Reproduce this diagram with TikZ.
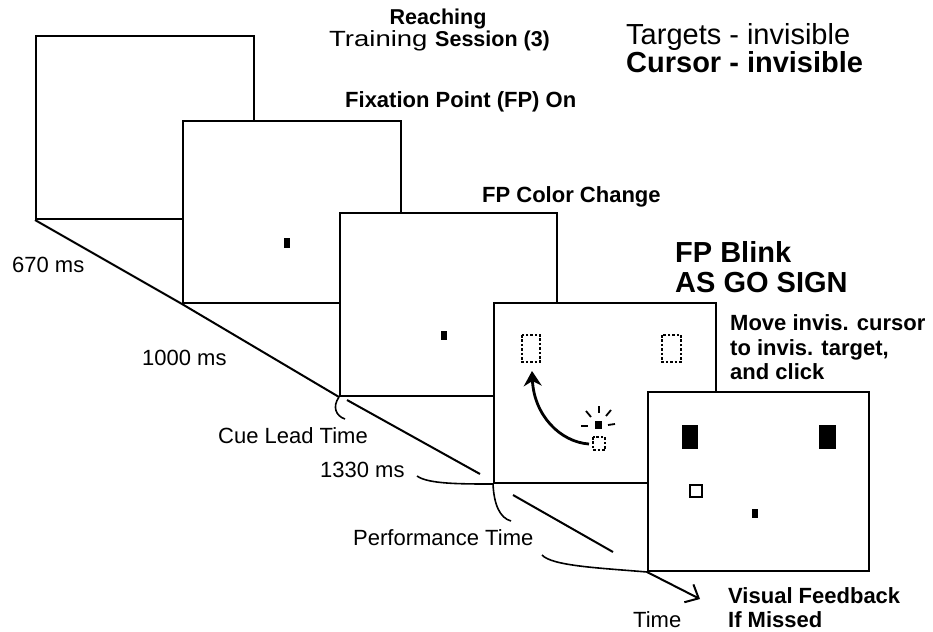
\documentclass[tikz,border=0pt]{standalone}
\usepackage{fontspec}
\usepackage{graphicx}
\setmainfont{Liberation Sans}
\usetikzlibrary{arrows.meta}
\begin{document}
\begin{tikzpicture}[x=1pt,y=-1pt,
  screen/.style={draw, fill=white, line width=2pt, inner sep=0pt, anchor=north west},
  tl/.style={line width=2pt},
  brace/.style={line width=1.6pt},
  fp/.style={fill=black},
  invis/.style={draw, line width=1.6pt, dash pattern=on 2.6pt off 1.8pt},
  ray/.style={line width=1.8pt},
  lab/.style={anchor=base west, inner sep=0pt, font=\fontsize{22}{26}\selectfont},
  blab/.style={anchor=base west, inner sep=0pt, font=\bfseries\fontsize{22}{26}\selectfont},
  big/.style={anchor=base west, inner sep=0pt, font=\fontsize{29}{33}\selectfont},
  bbig/.style={anchor=base west, inner sep=0pt, font=\bfseries\fontsize{29}{33}\selectfont}]
\useasboundingbox (0,0) rectangle (933,631);

% screens
\node[screen, minimum width=218pt, minimum height=183pt] (s1) at (35,35) {};
\node[screen, minimum width=218pt, minimum height=182pt] (s2) at (182,120) {};
\node[screen, minimum width=217pt, minimum height=183pt] (s3) at (339,212) {};
\node[screen, minimum width=222pt, minimum height=180pt] (s4) at (493,302) {};
\node[screen, minimum width=221pt, minimum height=179pt] (s5) at (647,391) {};

% fixation points
\fill[fp] (284,238) rectangle (290,248);
\fill[fp] (441,331) rectangle (447,340);
\fill[fp] (595,421) rectangle (602,429);
\fill[fp] (752,509) rectangle (758,518);

% screen 4 contents
\draw[invis] (522,335) rectangle (540,362);
\draw[invis] (662,335) rectangle (681,362);
\draw[invis] (593,437) rectangle (605,450);
\draw[ray] (581,426) -- (588,426);
\draw[ray] (608,425) -- (615,424);
\draw[ray] (599,406) -- (599,413);
\draw[ray] (586,411) -- (591,417);
\draw[ray] (606,416) -- (611,410);
\coordinate (cur) at (589,444);
\coordinate (tgt) at (532,371);
\draw[line width=2.8pt, -{Stealth[length=15pt,width=18pt,inset=5pt]}]
  (cur) .. controls (560,442) and (534,415) .. (tgt);

% screen 5 contents
\fill[fp] (682,425) rectangle (698,449);
\fill[fp] (819,425) rectangle (836,449);
\draw[line width=2pt] (690,485) rectangle (702,497);

% time line
\coordinate (t1) at (347,400);
\coordinate (t2) at (480,474);
\coordinate (t3) at (513,495);
\coordinate (t4) at (613,552);
\coordinate (tend) at (700,599);
\draw[tl] (s1.south west) -- (s2.south west) -- (s3.south west);
\draw[tl] (t1) -- (t2);
\draw[tl] (t3) -- (t4);
\draw[tl, -{Straight Barb[length=11pt,width=20pt,line width=2pt]}] (s5.south west) -- (tend);

% interval marks
\coordinate (b1) at (345,419);
\coordinate (b2) at (417,476);
\coordinate (b3) at (511,521);
\coordinate (b4) at (542,555);
\draw[brace] (s3.south west) .. controls (332,407) and (336,416) .. (b1);
\draw[brace] (b2) .. controls (428,484) and (460,484) .. (s4.south west);
\draw[brace] (s4.south west) .. controls (494,505) and (500,518) .. (b3);
\draw[brace] (b4) .. controls (552,566) and (600,568) .. (s5.south west);

% titles
\node[anchor=base, inner sep=0pt, font=\bfseries\fontsize{21.5}{25}\selectfont] (reach) at (438,25) {Reaching};
\node[anchor=base west, inner sep=0pt, font=\fontsize{22}{26}\selectfont] (train) at (329,47) {\scalebox{1.25}[1]{Training}};
\node[anchor=base west, inner sep=0pt, font=\bfseries\fontsize{21.5}{25}\selectfont] (sess) at (435,47) {Session (3)};
\node[big] (targ) at (626,45) {Targets - invisible};
\node[bbig] (curs) at (626,73) {Cursor - invisible};

% screen labels
\node[blab] (fpon) at (345,108) {Fixation Point (FP) On};
\node[blab] (fpcc) at (482,202) {FP Color Change};
\node[bbig] (blink1) at (675,262) {FP Blink};
\node[bbig] (blink2) at (675,292) {AS GO SIGN};
\node[blab] (mv1) at (730,330) {Move invis. cursor};
\node[blab] (mv2) at (730,355) {to invis. target,};
\node[blab] (mv3) at (730,379) {and click};
\node[blab] (vf1) at (728,603) {Visual Feedback};
\node[blab] (vf2) at (728,627) {If Missed};

% time labels
\node[lab] (l670) at (12,272) {670 ms};
\node[lab] (l1000) at (142,365) {1000 ms};
\node[lab] (lcue) at (218,443) {Cue Lead Time};
\node[lab] (l1330) at (320,477) {1330 ms};
\node[lab] (lperf) at (353,545) {Performance Time};
\node[lab] (ltime) at (633,627) {Time};
\end{tikzpicture}
\end{document}
